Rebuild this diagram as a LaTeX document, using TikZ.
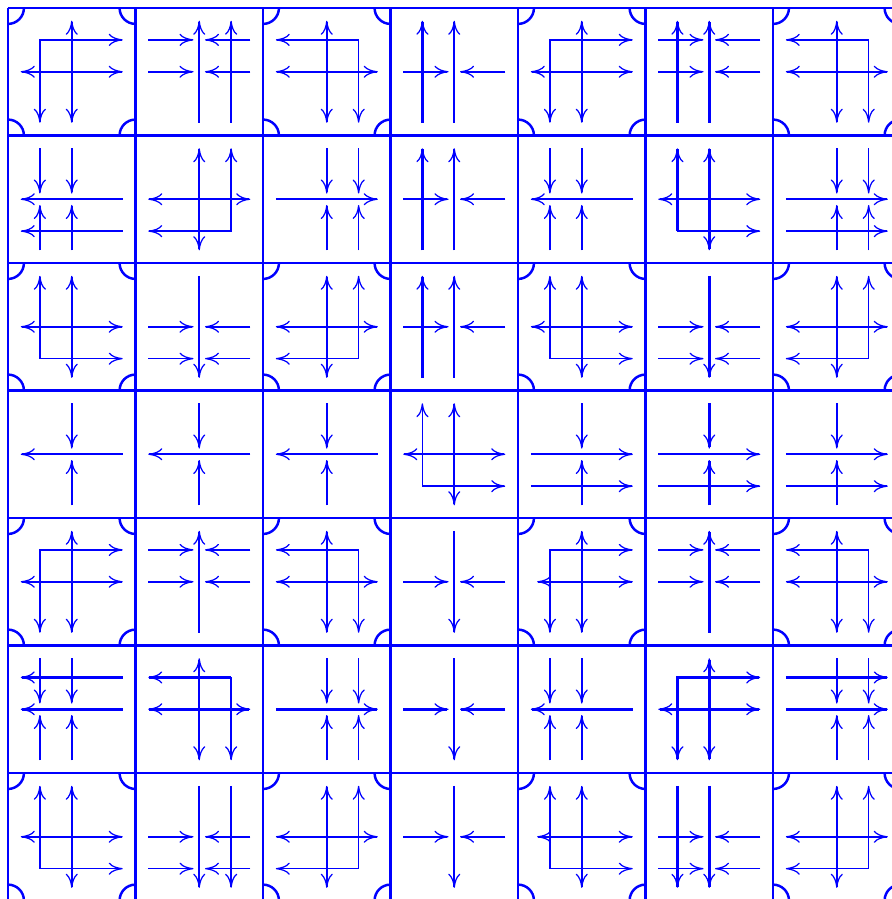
\documentclass[tikz,border=0pt]{standalone}
\usetikzlibrary{arrows.meta}

\tikzset{
  heavy/.style={line width=2.2pt},
}

% pairs of arrows running into the middle line of a cell
\newcommand{\hin}[2][]{%
  \draw[->,#1] (0.1,#2) -- (0.455,#2);
  \draw[->,#1] (0.9,#2) -- (0.545,#2);}
\newcommand{\vin}[2][]{%
  \draw[->,#1] (#2,0.1) -- (#2,0.455);
  \draw[->,#1] (#2,0.9) -- (#2,0.545);}
\newcommand{\cellat}[3]{\begin{scope}[shift={(#1,#2)}]#3\end{scope}}
\newcommand{\ringcell}[4][0.1]{%
  \begin{scope}[shift={(#2,#3)}]
    \begin{scope}
      \clip (0,0) rectangle (1,1);
      \foreach \ax/\ay in {0/0,1/0,0/1,1/1}
        \draw[heavy] (\ax,\ay) circle[radius=0.125];
    \end{scope}
    \draw[<->] (0.5,0.1) -- (0.5,0.9);
    \draw[<->] (#1,0.5) -- (0.9,0.5);
    \draw[<->] #4;
  \end{scope}}

\begin{document}
\begin{tikzpicture}[x=4cm, y=-4cm, blue, line width=1.4pt,
  >={To[length=4.4mm,width=3.8mm,line width=1.1pt]}]
\useasboundingbox (-0.0627,-0.0627) rectangle (6.933,6.988);
\clip (-0.0627,-0.0627) rectangle (6.933,6.988);

\foreach \k in {0,2,4,6}
  \draw (\k,0) -- (\k,7) (0,\k) -- (7,\k);
\foreach \k in {1,3,5,7}
  \draw[heavy] (\k,0) -- (\k,7) (0,\k) -- (7,\k);

% row 0
\ringcell{0}{0}{(0.25,0.9) -- (0.25,0.25) -- (0.9,0.25)}
\cellat{1}{0}{\draw[heavy,->] (0.5,0.9) -- (0.5,0.1); \draw[->] (0.75,0.9) -- (0.75,0.1); \hin{0.25} \hin{0.5}}
\ringcell{2}{0}{(0.1,0.25) -- (0.75,0.25) -- (0.75,0.9)}
\cellat{3}{0}{\draw[heavy,->] (0.25,0.9) -- (0.25,0.1); \draw[heavy,->] (0.5,0.9) -- (0.5,0.1); \hin{0.5}}
\ringcell{4}{0}{(0.25,0.9) -- (0.25,0.25) -- (0.9,0.25)}
\cellat{5}{0}{\draw[heavy,->] (0.25,0.9) -- (0.25,0.1); \draw[heavy,->] (0.5,0.9) -- (0.5,0.1); \hin{0.25} \hin{0.5}}
\ringcell{6}{0}{(0.1,0.25) -- (0.75,0.25) -- (0.75,0.9)}

% row 1
\cellat{0}{1}{\draw[heavy,->] (0.9,0.5) -- (0.1,0.5); \draw[->] (0.9,0.75) -- (0.1,0.75); \vin{0.25} \vin{0.5}}
\cellat{1}{1}{\draw[heavy,<->] (0.5,0.1) -- (0.5,0.9); \draw[heavy,<->] (0.1,0.5) -- (0.9,0.5); \draw[<->] (0.1,0.75) -- (0.75,0.75) -- (0.75,0.1);}
\cellat{2}{1}{\draw[heavy,->] (0.1,0.5) -- (0.9,0.5); \vin{0.5} \vin{0.75}}
\cellat{3}{1}{\draw[heavy,->] (0.25,0.9) -- (0.25,0.1); \draw[heavy,->] (0.5,0.9) -- (0.5,0.1); \hin[heavy]{0.5}}
\cellat{4}{1}{\draw[heavy,->] (0.9,0.5) -- (0.1,0.5); \vin{0.25} \vin{0.5}}
\cellat{5}{1}{\draw[heavy,<->] (0.5,0.1) -- (0.5,0.9); \draw[heavy,<->] (0.1,0.5) -- (0.9,0.5); \draw[heavy,<-] (0.25,0.1) -- (0.25,0.75); \draw[->] (0.25,0.75) -- (0.9,0.75);}
\cellat{6}{1}{\draw[heavy,->] (0.1,0.5) -- (0.9,0.5); \draw[->] (0.1,0.75) -- (0.9,0.75); \vin{0.5} \vin{0.75}}

% row 2
\ringcell{0}{2}{(0.25,0.1) -- (0.25,0.75) -- (0.9,0.75)}
\cellat{1}{2}{\draw[heavy,->] (0.5,0.1) -- (0.5,0.9); \hin{0.5} \hin{0.75}}
\ringcell{2}{2}{(0.75,0.1) -- (0.75,0.75) -- (0.1,0.75)}
\cellat{3}{2}{\draw[heavy,->] (0.25,0.9) -- (0.25,0.1); \draw[heavy,->] (0.5,0.9) -- (0.5,0.1); \hin{0.5}}
\ringcell{4}{2}{(0.25,0.1) -- (0.25,0.75) -- (0.9,0.75)}
\cellat{5}{2}{\draw[heavy,->] (0.5,0.1) -- (0.5,0.9); \hin{0.5} \hin{0.75}}
\ringcell{6}{2}{(0.75,0.1) -- (0.75,0.75) -- (0.1,0.75)}

% row 3
\cellat{0}{3}{\draw[heavy,->] (0.9,0.5) -- (0.1,0.5); \vin{0.5}}
\cellat{1}{3}{\draw[heavy,->] (0.9,0.5) -- (0.1,0.5); \vin[heavy]{0.5}}
\cellat{2}{3}{\draw[heavy,->] (0.9,0.5) -- (0.1,0.5); \vin{0.5}}
\cellat{3}{3}{\draw[heavy,<->] (0.5,0.1) -- (0.5,0.9); \draw[heavy,<->] (0.1,0.5) -- (0.9,0.5); \draw[<->] (0.25,0.1) -- (0.25,0.75) -- (0.9,0.75);}
\cellat{4}{3}{\draw[heavy,->] (0.1,0.5) -- (0.9,0.5); \draw[->] (0.1,0.75) -- (0.9,0.75); \vin{0.5}}
\cellat{5}{3}{\draw[heavy,->] (0.1,0.5) -- (0.9,0.5); \draw[->] (0.1,0.75) -- (0.9,0.75); \vin[heavy]{0.5}}
\cellat{6}{3}{\draw[heavy,->] (0.1,0.5) -- (0.9,0.5); \draw[->] (0.1,0.75) -- (0.9,0.75); \vin{0.5}}

% row 4
\ringcell{0}{4}{(0.25,0.9) -- (0.25,0.25) -- (0.9,0.25)}
\cellat{1}{4}{\draw[heavy,->] (0.5,0.9) -- (0.5,0.1); \hin{0.25} \hin{0.5}}
\ringcell{2}{4}{(0.1,0.25) -- (0.75,0.25) -- (0.75,0.9)}
\cellat{3}{4}{\draw[heavy,->] (0.5,0.1) -- (0.5,0.9); \hin{0.5}}
\ringcell[0.15]{4}{4}{(0.25,0.9) -- (0.25,0.25) -- (0.9,0.25)}
\cellat{5}{4}{\draw[heavy,->] (0.5,0.9) -- (0.5,0.1); \hin{0.25} \hin{0.5}}
\ringcell{6}{4}{(0.1,0.25) -- (0.75,0.25) -- (0.75,0.9)}

% row 5
\cellat{0}{5}{\draw[heavy,->] (0.9,0.25) -- (0.1,0.25); \draw[heavy,->] (0.9,0.5) -- (0.1,0.5); \vin{0.25} \vin{0.5}}
\cellat{1}{5}{\draw[heavy,<->] (0.5,0.1) -- (0.5,0.9); \draw[heavy,<->] (0.1,0.5) -- (0.9,0.5); \draw[heavy,<-] (0.1,0.25) -- (0.75,0.25); \draw[->] (0.75,0.25) -- (0.75,0.9);}
\cellat{2}{5}{\draw[heavy,->] (0.1,0.5) -- (0.9,0.5); \vin{0.5} \vin{0.75}}
\cellat{3}{5}{\draw[heavy,->] (0.5,0.1) -- (0.5,0.9); \hin[heavy]{0.5}}
\cellat{4}{5}{\draw[heavy,->] (0.9,0.5) -- (0.1,0.5); \vin{0.25} \vin{0.5}}
\cellat{5}{5}{\draw[heavy,<->] (0.5,0.1) -- (0.5,0.9); \draw[heavy,<->] (0.1,0.5) -- (0.9,0.5); \draw[heavy,<->] (0.25,0.9) -- (0.25,0.25) -- (0.9,0.25);}
\cellat{6}{5}{\draw[heavy,->] (0.1,0.25) -- (0.9,0.25); \draw[heavy,->] (0.1,0.5) -- (0.9,0.5); \vin{0.5} \vin{0.75}}

% row 6
\ringcell{0}{6}{(0.25,0.1) -- (0.25,0.75) -- (0.9,0.75)}
\cellat{1}{6}{\draw[heavy,->] (0.5,0.1) -- (0.5,0.9); \draw[->] (0.75,0.1) -- (0.75,0.9); \hin{0.5} \hin{0.75}}
\ringcell{2}{6}{(0.75,0.1) -- (0.75,0.75) -- (0.1,0.75)}
\cellat{3}{6}{\draw[heavy,->] (0.5,0.1) -- (0.5,0.9); \hin{0.5}}
\ringcell[0.15]{4}{6}{(0.25,0.1) -- (0.25,0.75) -- (0.9,0.75)}
\cellat{5}{6}{\draw[heavy,->] (0.25,0.1) -- (0.25,0.9); \draw[heavy,->] (0.5,0.1) -- (0.5,0.9); \hin{0.5} \hin{0.75}}
\ringcell{6}{6}{(0.75,0.1) -- (0.75,0.75) -- (0.1,0.75)}

\end{tikzpicture}
\end{document}
